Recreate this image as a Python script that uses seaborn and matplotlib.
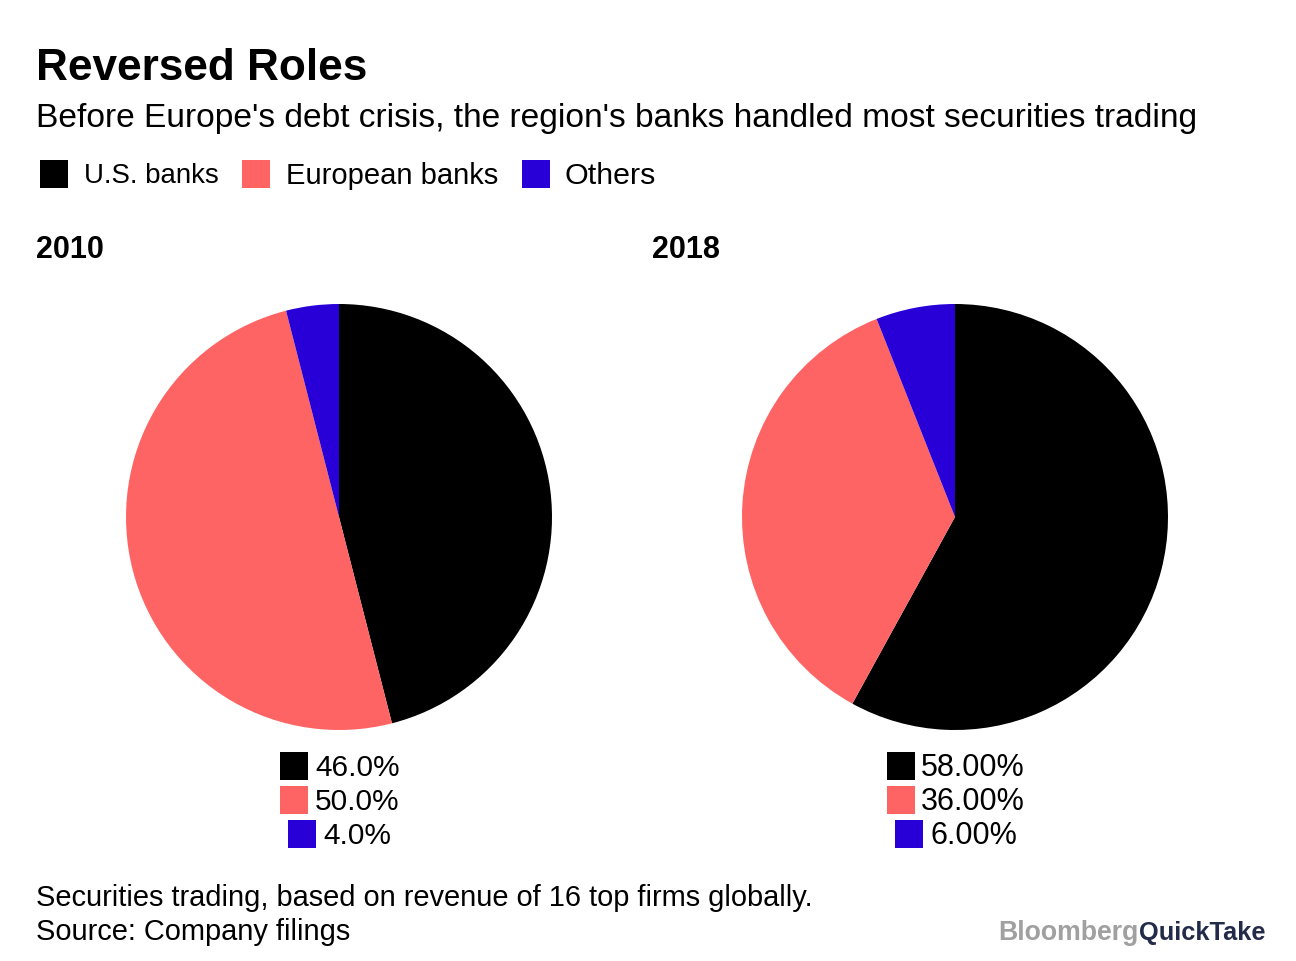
import matplotlib
matplotlib.use('Agg')
import matplotlib.pyplot as plt
from matplotlib.patches import Rectangle
import seaborn as sns

sns.set_theme(style='white')
plt.rcParams['font.family'] = ['Liberation Sans', 'DejaVu Sans']

W, H = 1296, 962

categories = ['U.S. banks', 'European banks', 'Others']
colors = ['#000000', '#ff6464', '#2800d7']
vals_2010 = [46.0, 50.0, 4.0]
vals_2018 = [58.0, 36.0, 6.0]
labels_2010 = ['46.0%', '50.0%', '4.0%']
labels_2018 = ['58.00%', '36.00%', '6.00%']

fig = plt.figure(figsize=(W / 100, H / 100), dpi=100, facecolor='white')


def txt(x, y, s, size, weight='normal', color='black', ha='left'):
    fig.text(x / W, 1 - y / H, s, fontsize=size, fontweight=weight, color=color, ha=ha, va='center')


def swatch(x, y, w, h, c):
    fig.add_artist(Rectangle((x / W, 1 - (y + h) / H), w / W, h / H, facecolor=c, lw=0, transform=fig.transFigure))


def pie(cx, vals):
    r = 213
    ax = fig.add_axes([(cx - r) / W, 1 - (518 + r) / H, 2 * r / W, 2 * r / H])
    ax.pie(vals, colors=colors, startangle=90, counterclock=False, radius=1.0, wedgeprops={'linewidth': 0})
    ax.set_xlim(-1, 1)
    ax.set_ylim(-1, 1)


def value_legend(labels, rows, size):
    for lab, c, y, (sx, tx) in zip(labels, colors, [767, 801, 835], rows):
        swatch(sx, y - 14, 28, 28, c)
        txt(tx, y + 1, lab, size)


txt(36, 69, 'Reversed Roles', 31.8, 'bold')
txt(36, 118, "Before Europe's debt crisis, the region's banks handled most securities trading", 24.1)

for sx, tx, c, lab, size in zip([40, 242, 522], [84, 286, 565], colors, categories, [19.9, 21, 21.9]):
    swatch(sx, 161, 28, 28, c)
    txt(tx, 176, lab, size)

txt(36, 250, '2010', 22, 'bold')
txt(652, 250, '2018', 22, 'bold')

pie(339, vals_2010)
pie(955, vals_2018)

value_legend(labels_2010, [(280, 315), (280, 315), (288, 323)], 21.5)
value_legend(labels_2018, [(887, 921), (887, 921), (895, 930)], 22)

txt(36, 898, 'Securities trading, based on revenue of 16 top firms globally.', 20.9)
txt(36, 932, 'Source: Company filings', 20.9)
txt(1139, 933, 'Bloomberg', 19.2, 'bold', '#a0a0a0', ha='right')
txt(1139, 933, 'QuickTake', 18.3, 'bold', '#232b4a')

fig.savefig('out.png', dpi=100, facecolor='white')
